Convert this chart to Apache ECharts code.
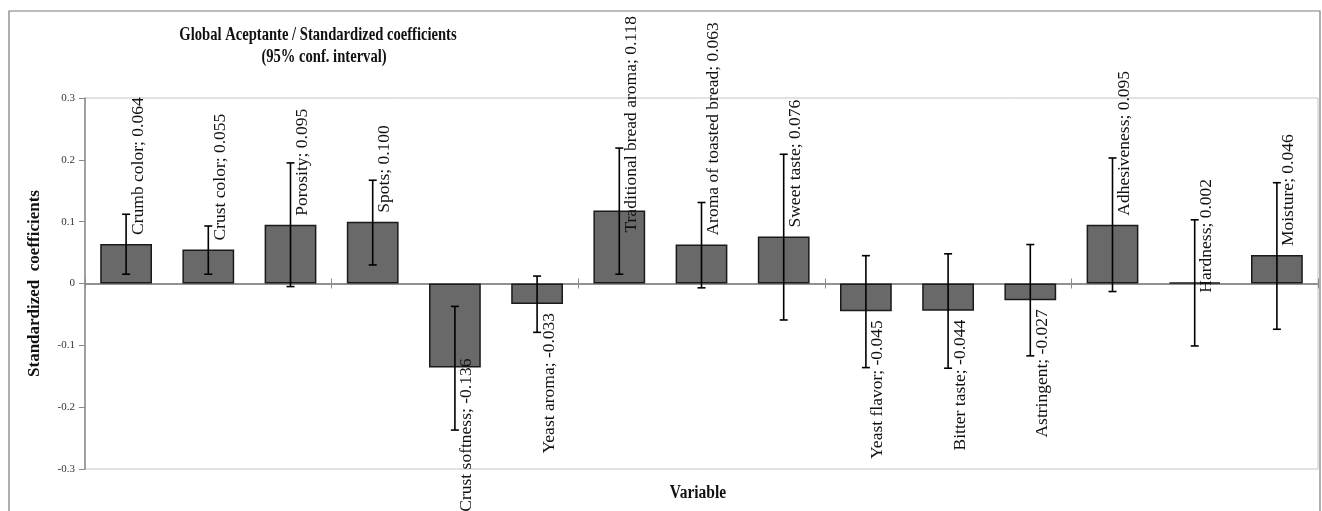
<!DOCTYPE html>
<html>
<head>
<meta charset="utf-8">
<script src="https://cdn.jsdelivr.net/npm/echarts@6/dist/echarts.min.js"></script>
<style>
  html, body { margin: 0; padding: 0; background: #fff; }
  #main { width: 1322px; height: 511px; }
</style>
</head>
<body>
<div id="main"></div>
<script>
// variables (x categories)
var categories = ['Crumb color', 'Crust color', 'Porosity', 'Spots', 'Crust softness', 'Yeast aroma',
  'Traditional bread aroma', 'Aroma of toasted bread', 'Sweet taste', 'Yeast flavor', 'Bitter taste',
  'Astringent', 'Adhesiveness', 'Hardness', 'Moisture'];
// standardized coefficients
var coefs = [0.064, 0.055, 0.095, 0.100, -0.136, -0.033, 0.118, 0.063, 0.076, -0.045, -0.044, -0.027, 0.095, 0.002, 0.046];
// 95% conf. interval bounds
var lowerCI = [0.015, 0.015, -0.005, 0.030, -0.237, -0.079, 0.015, -0.007, -0.059, -0.136, -0.137, -0.117, -0.013, -0.101, -0.074];
var upperCI = [0.112, 0.093, 0.195, 0.167, -0.037, 0.012, 0.219, 0.131, 0.209, 0.045, 0.048, 0.063, 0.203, 0.103, 0.163];
var yTicks = [-0.3, -0.2, -0.1, 0, 0.1, 0.2, 0.3];

var serif = '"Liberation Serif", "DejaVu Serif", serif';

var chart = echarts.init(document.getElementById('main'));

// label distance tweaks, like excel pushes long labels back in the box
function labelDistance(i) {
  if (categories[i] === 'Traditional bread aroma') return -22;
  if (categories[i] === 'Crust softness') return -9;
  return 9;
}

var barData = coefs.map(function (v, i) {
  return {
    value: v,
    label: {
      show: true,
      position: 'outside',
      rotate: 90,
      distance: labelDistance(i),
      offset: [0, 12],
      align: v >= 0 ? 'left' : 'right',
      verticalAlign: 'middle',
      formatter: categories[i] + '; ' + v.toFixed(3),
      fontFamily: serif,
      fontSize: 17.5,
      color: '#111'
    }
  };
});

var errData = coefs.map(function (v, i) {
  return [i, lowerCI[i], upperCI[i]];
});

var gridBox = { left: 85, right: 4, top: 98, bottom: 42 };

var option = {
  backgroundColor: '#ffffff',
  animation: false,
  grid: [
    Object.assign({ show: true, borderColor: '#c4c4c4', borderWidth: 1 }, gridBox),
    Object.assign({ show: false }, gridBox)
  ],
  xAxis: [{
    type: 'category',
    data: categories,
    gridIndex: 0,
    axisLine: { onZero: true, lineStyle: { color: '#8a8a8a', width: 1.5 } },
    axisTick: { show: true, length: 5, lineStyle: { color: '#8a8a8a' } },
    axisLabel: { show: false },
    splitLine: { show: false }
  }, {
    // second copy only for the upward half of the crossing ticks
    type: 'category',
    data: categories,
    gridIndex: 1,
    axisLine: { onZero: true, lineStyle: { color: '#8a8a8a', width: 1.5 } },
    axisTick: { show: true, inside: true, length: 5, lineStyle: { color: '#8a8a8a' } },
    axisLabel: { show: false },
    splitLine: { show: false }
  }],
  yAxis: [{
    type: 'value',
    gridIndex: 0,
    min: -0.3,
    max: 0.3,
    interval: 0.1,
    name: 'Standardized  coefficients',
    nameLocation: 'middle',
    nameGap: 42,
    nameTextStyle: { fontFamily: serif, fontWeight: 'bold', fontSize: 17, color: '#111' },
    axisLine: { show: true, lineStyle: { color: '#8a8a8a', width: 1.5 } },
    axisTick: { show: true, length: 6, lineStyle: { color: '#8a8a8a' } },
    axisLabel: {
      fontFamily: serif,
      fontSize: 11,
      color: '#333',
      margin: 10,
      formatter: function (v) {
        var r = Math.round(v * 10) / 10;
        return yTicks.indexOf(r) >= 0 ? String(r) : '';
      }
    },
    splitLine: { show: false }
  }, {
    type: 'value',
    gridIndex: 1,
    min: -0.3,
    max: 0.3,
    interval: 0.1,
    show: false
  }],
  series: [{
    type: 'bar',
    data: barData,
    barWidth: '63%',
    itemStyle: { color: '#696969', borderColor: '#1a1a1a', borderWidth: 1.5 },
    z: 2
  }, {
    type: 'custom',
    data: errData,
    z: 3,
    renderItem: function (params, api) {
      var idx = api.value(0);
      var lo = api.coord([idx, api.value(1)]);
      var hi = api.coord([idx, api.value(2)]);
      var cap = 4;
      var st = { stroke: '#000', lineWidth: 1.6 };
      return {
        type: 'group',
        children: [
          { type: 'line', shape: { x1: hi[0], y1: hi[1], x2: lo[0], y2: lo[1] }, style: st },
          { type: 'line', shape: { x1: hi[0] - cap, y1: hi[1], x2: hi[0] + cap, y2: hi[1] }, style: st },
          { type: 'line', shape: { x1: lo[0] - cap, y1: lo[1], x2: lo[0] + cap, y2: lo[1] }, style: st }
        ]
      };
    }
  }],
  graphic: [{
    type: 'rect',
    shape: { x: 9, y: 11, width: 1311, height: 520 },
    style: { fill: 'none', stroke: '#7a7a7a', lineWidth: 1.2 },
    silent: true,
    z: -1
  }, {
    type: 'text',
    x: 318, y: 35,
    scaleY: 1.25,
    style: {
      text: 'Global Aceptante / Standardized coefficients',
      font: 'bold 14.6px ' + serif,
      fill: '#111',
      textAlign: 'center',
      textVerticalAlign: 'middle'
    }
  }, {
    type: 'text',
    x: 324, y: 57,
    scaleY: 1.25,
    style: {
      text: '(95% conf. interval)',
      font: 'bold 14.6px ' + serif,
      fill: '#111',
      textAlign: 'center',
      textVerticalAlign: 'middle'
    }
  }, {
    type: 'text',
    x: 698, y: 493,
    scaleY: 1.2,
    style: {
      text: 'Variable',
      font: 'bold 15.5px ' + serif,
      fill: '#111',
      textAlign: 'center',
      textVerticalAlign: 'middle'
    }
  }]
};

chart.setOption(option);
</script>
</body>
</html>
